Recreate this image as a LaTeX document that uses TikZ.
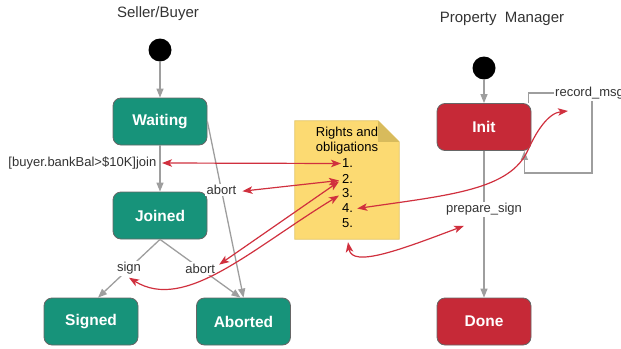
\documentclass[tikz,border=0pt]{standalone}
\usepackage{fontspec}
\setmainfont{Liberation Sans}
\usetikzlibrary{arrows.meta}

\definecolor{sbgreen}{HTML}{17937A}
\definecolor{pmred}{HTML}{C62937}
\definecolor{linkred}{HTML}{D0303E}
\definecolor{flowgray}{HTML}{9E9E9E}
\definecolor{noteyellow}{HTML}{FCDA72}
\definecolor{notefold}{HTML}{D8BB5C}
\definecolor{noteedge}{HTML}{E2C467}
\definecolor{textgray}{HTML}{333333}

\begin{document}
\begin{tikzpicture}[x=1pt, y=-1pt,
  title/.style={font=\fontsize{15}{18}\selectfont, text=textgray},
  initial/.style={circle, fill=black, minimum size=23pt, inner sep=0pt},
  state/.style={rectangle, rounded corners=8pt, draw=black!60, line width=0.8pt,
    minimum width=94pt, minimum height=47pt, text=white,
    font=\fontsize{15.5}{18}\selectfont\bfseries},
  sbstate/.style={state, fill=sbgreen},
  pmstate/.style={state, fill=pmred},
  lbl/.style={font=\fontsize{13}{15}\selectfont, text=textgray, fill=white, inner sep=1.5pt},
  item/.style={font=\fontsize{13}{15}\selectfont, text=black, inner sep=1pt, anchor=west},
  flow/.style={draw=flowgray, line width=1.3pt, -{Triangle[length=9pt,width=7pt]}},
  loopline/.style={draw=flowgray, line width=1.3pt},
  link/.style={draw=linkred, line width=1.2pt,
    {Stealth[length=10pt,width=7.5pt,inset=2.5pt]}-{Stealth[length=10pt,width=7.5pt,inset=2.5pt]}}
]
\useasboundingbox (0,0) rectangle (621,348);

% ---------- Seller/Buyer machine ----------
\node[title] (sbtitle) at (158,14) {Seller/Buyer};
\node[initial] (s0) at (160,50) {};
\node[sbstate] (waiting) at (160,121.5) {Waiting};
\node[sbstate] (joined)  at (160,215.5) {Joined};
\node[sbstate] (signed)  at (91,321.5)  {Signed};
\node[sbstate] (aborted) at (243.5,321.5) {Aborted};

\draw[flow] (s0) -- (waiting);
\draw[flow] (waiting) -- (joined);
\node[lbl, anchor=east] (join) at (158,163) {[buyer.bankBal>\$10K]join};

\draw[flow] (waiting.east) -- node[lbl, pos=0.39] (abortA) {abort} (aborted.north);
\draw[flow] (joined.south) -- node[lbl] (sign) {sign} ([xshift=7pt]signed.north);
\draw[flow] (joined.south) -- node[lbl] (abortB) {abort} ([xshift=-3pt]aborted.north);

% ---------- Property Manager machine ----------
\node[title] (pmtitle) at (502,19) {Property\ \ Manager};
\node[initial] (p0) at (484,68) {};
\node[pmstate] (init) at (484,127) {Init};
\node[pmstate] (done) at (484,321.5) {Done};

\draw[flow] (p0) -- (init);
\draw[flow] (init) -- node[lbl, pos=0.40] (prep) {prepare\_sign} (done);

% self loop on Init
\node[lbl, anchor=west, inner sep=1pt] (rec) at (554,93) {record\_msg};
\coordinate (loopr) at (592,101);
\coordinate (loopb) at (592,173);
\draw[loopline] ([xshift=-3pt]init.north east) |- (rec.west);
\draw[flow] (loopr) -- (loopb) -| ([xshift=-7pt]init.south east);

% ---------- shared note ----------
\node[minimum width=104pt, minimum height=118pt, inner sep=0pt] (note) at (347,180) {};
\path[fill=noteyellow, draw=noteedge, line width=0.8pt]
  (note.north west) -- ([xshift=-21pt]note.north east) -- ([yshift=-21pt]note.north east)
  -- (note.south east) -- (note.south west) -- cycle;
\path[fill=notefold]
  ([xshift=-21pt]note.north east) -- ([xshift=-21pt,yshift=-21pt]note.north east)
  -- ([yshift=-21pt]note.north east) -- cycle;
\node[font=\fontsize{13}{15}\selectfont, align=center, inner sep=0pt] (ntitle) at (347,140.5)
  {Rights and\\obligations};
\node[item] (n1) at (341,163.5) {1.};
\node[item] (n2) at (341,178.5) {2.};
\node[item] (n3) at (341,193.5) {3.};
\node[item] (n4) at (341,208.5) {4.};
\node[item] (n5) at (341,223.5) {5.};

% ---------- obligations links ----------
\coordinate (rectip) at (568,111);
\draw[link] (n1.west) -- ([xshift=4pt]join.east);
\draw[link] ([xshift=-2pt,yshift=-2pt]n2.west) -- ([xshift=4pt,yshift=-1pt]abortA.east);
\draw[link] ([xshift=-2pt,yshift=-3pt]n2.west) -- ([xshift=2pt,yshift=-3pt]abortB.north east);
\draw[link] ([xshift=-2pt,yshift=-2pt]n3.west) .. controls (250,250) and (185,312) .. ([yshift=-1pt]sign.south);
\draw[link] ([xshift=3pt]n4.east) .. controls (450,195) and (510,190) .. (528,150)
  .. controls (536,132) and (548,113) .. (rectip);
\draw[link] ([xshift=1pt,yshift=-3pt]note.south) .. controls (352,268) and (400,250)
  .. ([xshift=-20pt,yshift=-8pt]prep.south);

\end{tikzpicture}
\end{document}
